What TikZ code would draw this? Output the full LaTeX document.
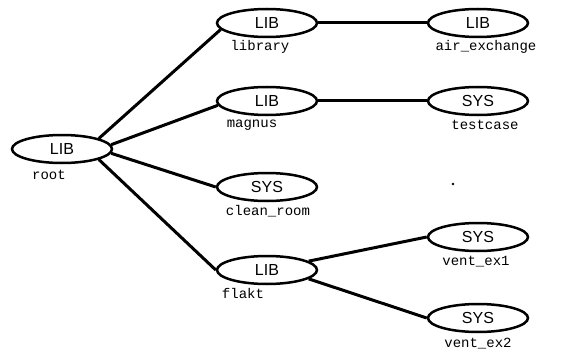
\documentclass[tikz,border=0pt]{standalone}
\usepackage{fontspec}
\setmainfont{Liberation Sans}
\newfontfamily\monofam{Liberation Mono}
\usetikzlibrary{shapes.geometric}
\begin{document}
\begin{tikzpicture}[x=1pt,y=-1pt,
  elli/.style={ellipse,draw,line width=2.5pt,minimum width=100pt,minimum height=28pt,inner sep=0pt,font=\fontsize{16}{16}\selectfont},
  lbl/.style={font=\monofam\fontsize{14}{14}\selectfont,inner sep=0pt},
  edge/.style={line width=3pt}]
\useasboundingbox (0,0) rectangle (568,353);
\node[elli] (root) at (62,149) {LIB};
\node[elli] (library) at (267,23) {LIB};
\node[elli] (air) at (478,23) {LIB};
\node[elli] (magnus) at (267,101) {LIB};
\node[elli] (testcase) at (478,101) {SYS};
\node[elli] (clean) at (267,187) {SYS};
\node[elli] (flakt) at (267,270) {LIB};
\node[elli] (vent1) at (478,237) {SYS};
\node[elli] (vent2) at (478,318) {SYS};
\node[lbl] (lroot) at (49,175) {root};
\node[lbl] (llibrary) at (260,47) {library};
\node[lbl] (lair) at (486,47) {air\_exchange};
\node[lbl] (lmagnus) at (252,125) {magnus};
\node[lbl] (ltestcase) at (485,125) {testcase};
\node[lbl] (lclean) at (268,211) {clean\_room};
\node[lbl] (lflakt) at (243,293) {flakt};
\node[lbl] (lvent1) at (476,262) {vent\_ex1};
\node[lbl] (lvent2) at (478,344) {vent\_ex2};
\fill (453,184) circle (1.3pt);
\draw[edge] (root.16) -- (library.188);
\draw[edge] (root.5) -- (magnus.185);
\draw[edge] (root.-5) -- (clean.west);
\draw[edge] (root.-16) -- (flakt.west);
\draw[edge] (library.east) -- (air.west);
\draw[edge] (magnus.east) -- (testcase.west);
\draw[edge] (flakt.12) -- (vent1.west);
\draw[edge] (flakt.-12) -- (vent2.west);
\end{tikzpicture}
\end{document}
